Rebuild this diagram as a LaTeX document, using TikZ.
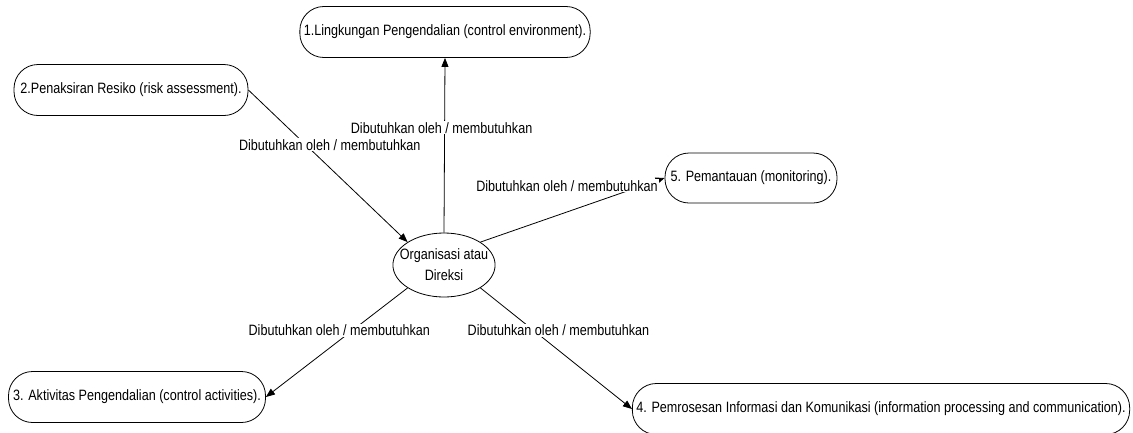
\documentclass[tikz,border=0pt]{standalone}
\usepackage{fontspec}
\setmainfont{Liberation Sans}[FakeStretch=0.84]
\usetikzlibrary{positioning,arrows.meta,shapes.geometric}

\begin{document}
\begin{tikzpicture}[x=1pt, y=-1pt,
    every node/.style = {font=\fontsize{15}{17}\selectfont},
    komponen/.style   = {draw, line width=0.8pt, rounded corners=24pt,
                         minimum height=51pt, inner xsep=4pt},
    pusat/.style      = {draw, line width=0.8pt, ellipse, minimum width=102pt,
                         minimum height=64pt, inner xsep=-8pt, inner ysep=0pt,
                         align=center, font=\fontsize{15}{21}\selectfont},
    relasi/.style     = {fill=white, inner sep=1pt},
    panah/.style      = {-{Triangle[length=9pt,width=7pt]}, line width=0.8pt}]

  \useasboundingbox (0,0) rectangle (1133,432);

  \node[pusat] (org) at (444,265) {Organisasi atau\\Direksi};

  \node[komponen, minimum width=290pt] (lingkungan) at (445,32)
    {1.Lingkungan Pengendalian (control environment).};
  \node[komponen, minimum width=234pt] (penaksiran) at (131,90)
    {2.Penaksiran Resiko (risk assessment).};
  \node[komponen, minimum width=257pt] (aktivitas) at (137,397)
    {3. Aktivitas Pengendalian (control activities).};
  \node[komponen, minimum width=487pt] (informasi) at (881,409)
    {4. Pemrosesan Informasi dan Komunikasi (information processing and communication).};
  \node[komponen, minimum width=172pt, minimum height=50pt] (pemantauan) at (751,178)
    {5. Pemantauan (monitoring).};

  \draw[panah] (org.north) -- node[relasi, pos=0.6, xshift=-3pt]
    {Dibutuhkan oleh / membutuhkan} (lingkungan.south);
  \draw[panah] (penaksiran.east) -- node[relasi, pos=0.36, xshift=24pt]
    {Dibutuhkan oleh / membutuhkan} (org.north west);
  \draw[panah] (org.north east) -- node[relasi, pos=0.97, anchor=east, yshift=-6pt]
    {Dibutuhkan oleh / membutuhkan} (pemantauan.west);
  \draw[panah] (org.south west) -- node[relasi, pos=0.39, xshift=-13pt]
    {Dibutuhkan oleh / membutuhkan} (aktivitas.east);
  \draw[panah] (org.south east) -- node[relasi, pos=0.35, xshift=25pt]
    {Dibutuhkan oleh / membutuhkan} (informasi.west);
\end{tikzpicture}
\end{document}
